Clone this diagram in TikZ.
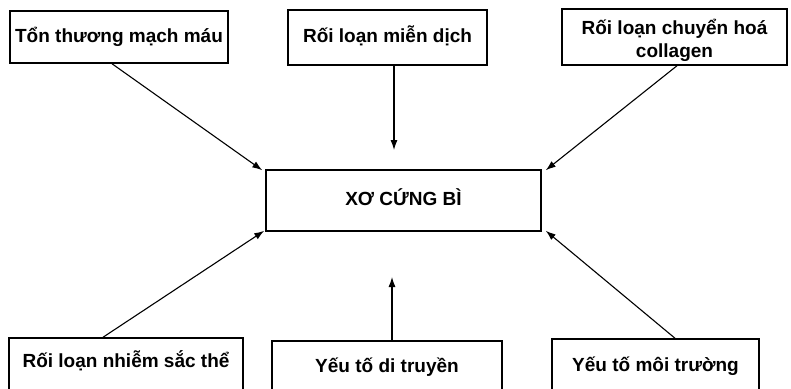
\documentclass[tikz,border=0pt]{standalone}
\usepackage{fontspec}
\setmainfont{Liberation Sans}
\usetikzlibrary{arrows.meta}
\begin{document}
\begin{tikzpicture}[x=1pt,y=-1pt,
  box/.style={draw=black,line width=1.5pt,fill=white,inner sep=0pt,
    text height=14pt,text depth=4pt,
    font=\fontsize{19pt}{23pt}\selectfont\bfseries},
  lowbox/.style={box,text depth=16pt},
  arr/.style={draw=black,line width=1.1pt,-{Latex[length=10pt,width=7pt]}}]
\useasboundingbox (0,0) rectangle (791,388);
\clip (0,0) rectangle (791,388);
\fill[white] (0,0) rectangle (791,388);
% top boxes
\node[box,minimum width=218pt,minimum height=52pt] (tl) at (119,37) {Tổn thương mạch máu};
\node[box,minimum width=199pt,minimum height=55pt] (tm) at (387.5,37.5) {Rối loạn miễn dịch};
\node[box,minimum width=225pt,minimum height=56pt,text depth=20pt] (tr) at (674.5,37)
  {\begin{tabular}[t]{@{}c@{}}Rối loạn chuyển hoá\\collagen\end{tabular}};
% centre
\node[box,minimum width=275pt,minimum height=61pt] (c) at (403.5,200.5) {XƠ CỨNG BÌ};
% bottom boxes
\node[lowbox,minimum width=234pt,minimum height=60pt] (bl) at (126,368) {Rối loạn nhiễm sắc thể};
\node[lowbox,minimum width=230pt,minimum height=64pt] (bm) at (387,373) {Yếu tố di truyền};
\node[lowbox,minimum width=207pt,minimum height=66pt] (br) at (655.5,372) {Yếu tố môi trường};
% free ends of the vertical arrows
\coordinate (tmend) at (394,150);
\coordinate (bmend) at (392,277);
% connectors
\draw[arr] ([xshift=-7pt]tl.south) -- ([xshift=-3pt,yshift=-1pt]c.north west);
\draw[arr] (tm.south -| tmend) -- (tmend);
\draw[arr] ([xshift=2.5pt]tr.south) -- ([xshift=4pt,yshift=-1pt]c.north east);
\draw[arr] ([xshift=-23pt]bl.north) -- ([xshift=-1pt,yshift=1pt]c.south west);
\draw[arr] (bm.north -| bmend) -- (bmend);
\draw[arr] ([xshift=19.5pt]br.north) -- ([xshift=4pt,yshift=1pt]c.south east);
\end{tikzpicture}
\end{document}
